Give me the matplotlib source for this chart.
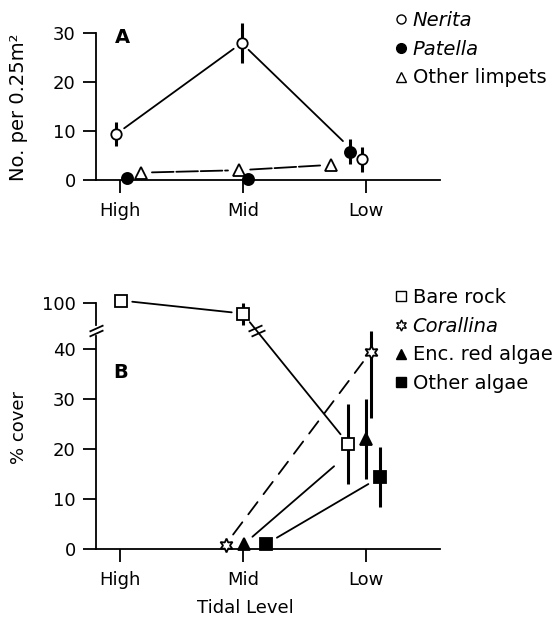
import numpy as np
import matplotlib
matplotlib.use("Agg")
import matplotlib.pyplot as plt
from matplotlib.lines import Line2D

# tidal levels on the x axis
levels = ["High", "Mid", "Low"]
level_pos = [0, 1, 2]

# Panel A: numbers per 0.25 m2 (x = level with small offset to avoid overlap)
nerita_x = [-0.03, 0.99, 1.97]
nerita_y = [9.4, 28.0, 4.2]
nerita_err = [2.5, 4.0, 2.5]
patella_x = [0.06, 1.04, 1.87]
patella_y = [0.5, 0.2, 5.8]
patella_err = [0, 0, 2.5]
limpet_x = [0.17, 0.97, 1.72]
limpet_y = [1.5, 2.0, 3.1]

# Panel B: % cover
bare_x = [0.01, 1.0, 1.86]
bare_y = [100.5, 97.9, 21.0]
bare_err = [0, 2.2, 8.0]
coral_x = [0.86, 2.04]
coral_y = [0.9, 39.4]
coral_err_lo = [0, 13.2]
coral_err_hi = [0, 4.2]
red_x = [1.01, 2.0]
red_y = [1.0, 22.0]
red_err = [0, 8.0]
other_x = [1.19, 2.12]
other_y = [1.0, 14.4]
other_err = [0, 6.0]

plt.rcParams['font.family'] = ['DejaVu Sans']
FS = 13
LW = 1.3


def fwd(y):
    """Broken y axis: 44..95 squeezed almost to nothing."""
    y = np.asarray(y, dtype=float)
    return np.where(y <= 44, y, np.where(y < 95, 44 + (y - 44) * 0.2 / 51, y - 50.8))


def inv(f):
    f = np.asarray(f, dtype=float)
    return np.where(f <= 44, f, np.where(f < 44.2, 44 + (f - 44) * 51 / 0.2, f + 50.8))


def connect(ax, xs, ys, gaps, ls='-'):
    """Join points with lines that stop short of the markers."""
    for i in range(len(xs) - 1):
        ga, gb = gaps[i]
        ax.annotate('', xy=(xs[i + 1], ys[i + 1]), xytext=(xs[i], ys[i]),
                    arrowprops=dict(arrowstyle='-', lw=LW, color='k', ls=ls,
                                    shrinkA=ga, shrinkB=gb),
                    annotation_clip=False)


def style_axes(ax):
    for s in ['top', 'right']:
        ax.spines[s].set_visible(False)
    for s in ['left', 'bottom']:
        ax.spines[s].set_linewidth(LW)
    ax.set_xlim(-0.195, 2.606)
    ax.set_xticks(level_pos)
    ax.set_xticklabels(levels)
    ax.tick_params(length=9.5, width=LW, labelsize=FS, pad=5)
    ax.tick_params(axis='x', pad=6)


def points(ax, x, y, marker, fill, ms=8):
    ax.plot(x, y, marker=marker, ls='none', ms=ms, mfc=fill, mec='k',
            mew=LW, zorder=3, clip_on=False)


def errs(ax, x, y, err):
    ax.errorbar(x, y, yerr=err, fmt='none', ecolor='k', elinewidth=2.2,
                capsize=0, zorder=2.5, clip_on=False)


fig = plt.figure(figsize=(5.54, 6.2), dpi=100)
ax_a = fig.add_axes([0.1733, 0.7097, 0.621, 0.2603])
ax_b = fig.add_axes([0.1733, 0.1145, 0.621, 0.4048])

# ---------------- Panel A ----------------
style_axes(ax_a)
ax_a.set_ylim(0, 33)
ax_a.spines['left'].set_bounds(0, 30)
ax_a.set_yticks([0, 10, 20, 30])

connect(ax_a, nerita_x, nerita_y, [(7, 7), (7, 19)])
connect(ax_a, limpet_x, limpet_y, [(8, 8), (8, 8)], ls=(0, (12, 1.5)))
errs(ax_a, nerita_x, nerita_y, nerita_err)
errs(ax_a, patella_x, patella_y, patella_err)
points(ax_a, nerita_x, nerita_y, 'o', 'white', 7.5)
points(ax_a, patella_x, patella_y, 'o', 'black', 8)
points(ax_a, limpet_x, limpet_y, '^', 'white', 8)

ax_a.set_ylabel('No. per 0.25m²', fontsize=FS + 1)
ax_a.yaxis.set_label_coords(-0.198, 0.452)
ax_a.text(0.078, 0.88, 'A', transform=ax_a.transAxes, fontsize=FS + 1,
          fontweight='bold', ha='center', va='center')

handles_a = [Line2D([], [], marker='o', ls='none', ms=6.5, mfc='white', mec='k', mew=1),
             Line2D([], [], marker='o', ls='none', ms=7, mfc='black', mec='k', mew=1),
             Line2D([], [], marker='^', ls='none', ms=7, mfc='white', mec='k', mew=1)]
leg_a = fig.legend(handles_a, ['Nerita', 'Patella', 'Other limpets'],
                   loc='upper left', bbox_to_anchor=(0.715, 1 - 11 / 620),
                   frameon=False, fontsize=FS + 1, handlelength=0.55,
                   handletextpad=0.3, labelspacing=0.5, borderpad=0,
                   borderaxespad=0)
for t in leg_a.get_texts()[:2]:
    t.set_style('italic')

# ---------------- Panel B ----------------
ax_b.set_yscale('function', functions=(fwd, inv))
style_axes(ax_b)
ax_b.set_ylim(0, 101)
ax_b.spines['left'].set_bounds(0, 42.6)
ax_b.set_yticks([0, 10, 20, 30, 40, 100])
ax_b.set_yticklabels(['0', '10', '20', '30', '40', '100'])

# upper piece of the broken y axis and its break marks
ytr = ax_b.get_yaxis_transform()
ax_b.plot([0, 0], [95.6, 100], transform=ytr, color='k', lw=LW, clip_on=False)
brk = [(-1, -0.45), (1, 0.45)]
ax_b.plot([0, 0], [43.3, 95.05], transform=ytr, ls='none', marker=brk, ms=10,
          mec='k', mew=LW, clip_on=False)

connect(ax_b, bare_x, bare_y, [(8, 8), (8, 9)])
connect(ax_b, coral_x, coral_y, [(9, 9)], ls=(0, (8.5, 5.5)))
connect(ax_b, red_x, red_y, [(8, 30)])
connect(ax_b, other_x, other_y, [(9, 10)])

# break marks on the bare rock line from Mid to Low
fm, fl = fwd(bare_y[1]), fwd(bare_y[2])
f_marks = np.array([44.15, 43.25])
t = (fm - f_marks) / (fm - fl)
mx = bare_x[1] + t * (bare_x[2] - bare_x[1])
ax_b.plot(mx, inv(f_marks), ls='none', marker=brk, ms=10, mec='k', mew=LW,
          zorder=3, clip_on=False)

errs(ax_b, bare_x, bare_y, bare_err)
errs(ax_b, coral_x, coral_y, [coral_err_lo, coral_err_hi])
errs(ax_b, red_x, red_y, red_err)
errs(ax_b, other_x, other_y, other_err)
points(ax_b, bare_x, bare_y, 's', 'white', 8)
points(ax_b, coral_x, coral_y, (6, 1, 0), 'white', 10)
points(ax_b, red_x, red_y, '^', 'black', 8.5)
points(ax_b, other_x, other_y, 's', 'black', 8.5)

ax_b.set_ylabel('% cover', fontsize=FS)
ax_b.yaxis.set_label_coords(-0.198, 0.486)
ax_b.set_xlabel('Tidal Level', fontsize=FS)
ax_b.xaxis.set_label_coords(0.435, -0.199)
ax_b.text(0.073, 0.705, 'B', transform=ax_b.transAxes, fontsize=FS + 1,
          fontweight='bold', ha='center', va='center')

handles_b = [Line2D([], [], marker='s', ls='none', ms=6.5, mfc='white', mec='k', mew=1),
             Line2D([], [], marker=(6, 1, 0), ls='none', ms=8, mfc='white', mec='k', mew=1),
             Line2D([], [], marker='^', ls='none', ms=7, mfc='black', mec='k', mew=1),
             Line2D([], [], marker='s', ls='none', ms=7, mfc='black', mec='k', mew=1)]
leg_b = fig.legend(handles_b, ['Bare rock', 'Corallina', 'Enc. red algae', 'Other algae'],
                   loc='upper left', bbox_to_anchor=(0.715, 1 - 288 / 620),
                   frameon=False, fontsize=FS + 1, handlelength=0.55,
                   handletextpad=0.3, labelspacing=0.5, borderpad=0,
                   borderaxespad=0)
leg_b.get_texts()[1].set_style('italic')

fig.savefig('out.png', dpi=100)
